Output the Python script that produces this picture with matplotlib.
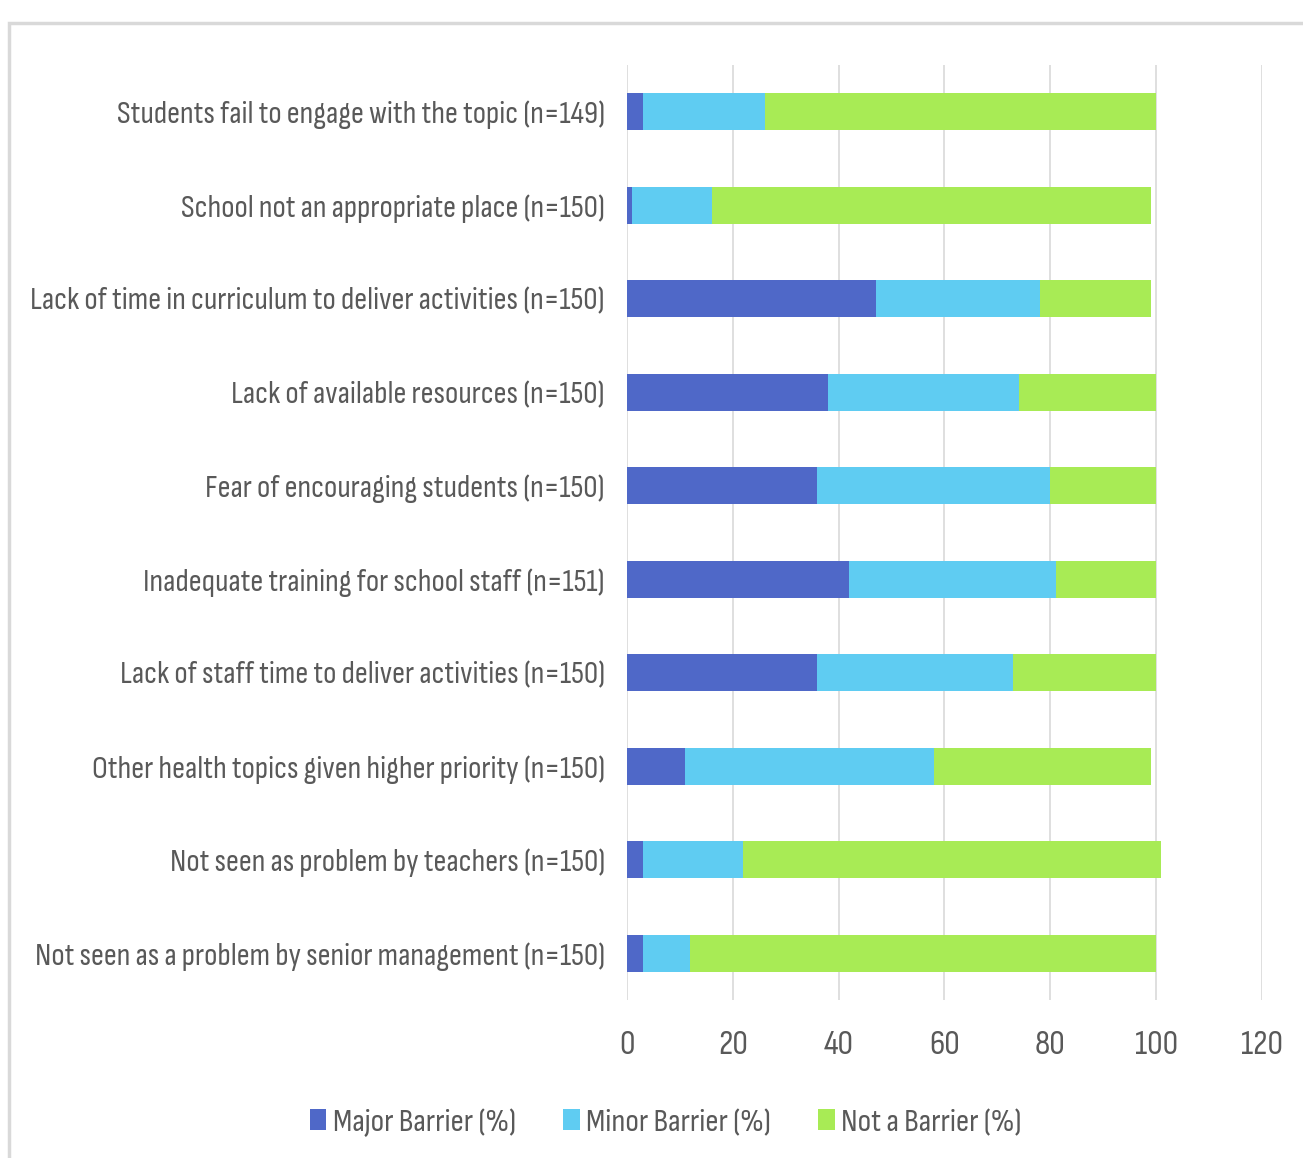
import matplotlib.pyplot as plt
from matplotlib.patches import Rectangle

categories = [
    'Students fail to engage with the topic (n=149)',
    'School not an appropriate place (n=150)',
    'Lack of time in curriculum to deliver activities (n=150)',
    'Lack of available resources (n=150)',
    'Fear of encouraging students (n=150)',
    'Inadequate training for school staff (n=151)',
    'Lack of staff time to deliver activities (n=150)',
    'Other health topics given higher priority (n=150)',
    'Not seen as problem by teachers (n=150)',
    'Not seen as a problem by senior management (n=150)',
]
major = [3, 1, 47, 38, 36, 42, 36, 11, 3, 3]
minor = [23, 15, 31, 36, 44, 39, 37, 47, 19, 9]
notb = [74, 83, 21, 26, 20, 19, 27, 41, 79, 88]

series_names = ['Major Barrier (%)', 'Minor Barrier (%)', 'Not a Barrier (%)']
colors = ['#4F68C8', '#5FCCF2', '#A8EB55']

font = ['Sofia Sans Condensed', 'Encode Sans Condensed', 'DejaVu Sans']
txt = '#595959'

fig = plt.figure(figsize=(13.03, 11.58), dpi=100)
ax = fig.add_axes([0.4812, 0.1364, 0.4873, 0.8075])

y = list(range(len(categories)))
left2 = [a + b for a, b in zip(major, minor)]
ax.barh(y, major, height=0.4, color=colors[0], label=series_names[0], zorder=3)
ax.barh(y, minor, left=major, height=0.4, color=colors[1], label=series_names[1], zorder=3)
ax.barh(y, notb, left=left2, height=0.4, color=colors[2], label=series_names[2], zorder=3)

ax.set_xlim(0, 120)
ax.set_ylim(len(categories) - 0.5, -0.5)
ax.set_xticks(range(0, 121, 20))
ax.set_yticks(y)
ax.set_yticklabels(categories)
ax.grid(axis='x', color='#D9D9D9', linewidth=1.2, zorder=0)
for s in ax.spines.values():
    s.set_visible(False)
ax.tick_params(length=0, labelcolor=txt)
ax.tick_params(axis='y', pad=16, labelsize=23)
ax.tick_params(axis='x', pad=22, labelsize=25)
for lab in ax.get_xticklabels() + ax.get_yticklabels():
    lab.set_family(font)

leg = fig.legend(loc='center', bbox_to_anchor=(0.511, 1 - 1123 / 1158), ncol=3,
                 frameon=False, prop={'family': font, 'size': 23.5},
                 handlelength=0.5, handleheight=0.6, handletextpad=0.2, columnspacing=1.45)
for t in leg.get_texts():
    t.set_color(txt)

fig.patches.append(Rectangle((9 / 1303, -0.05), 1.1, 1.05 - 23 / 1158,
                             transform=fig.transFigure, fill=False,
                             edgecolor='#D9D9D9', linewidth=2.5))

fig.savefig('out.png', dpi=100)
